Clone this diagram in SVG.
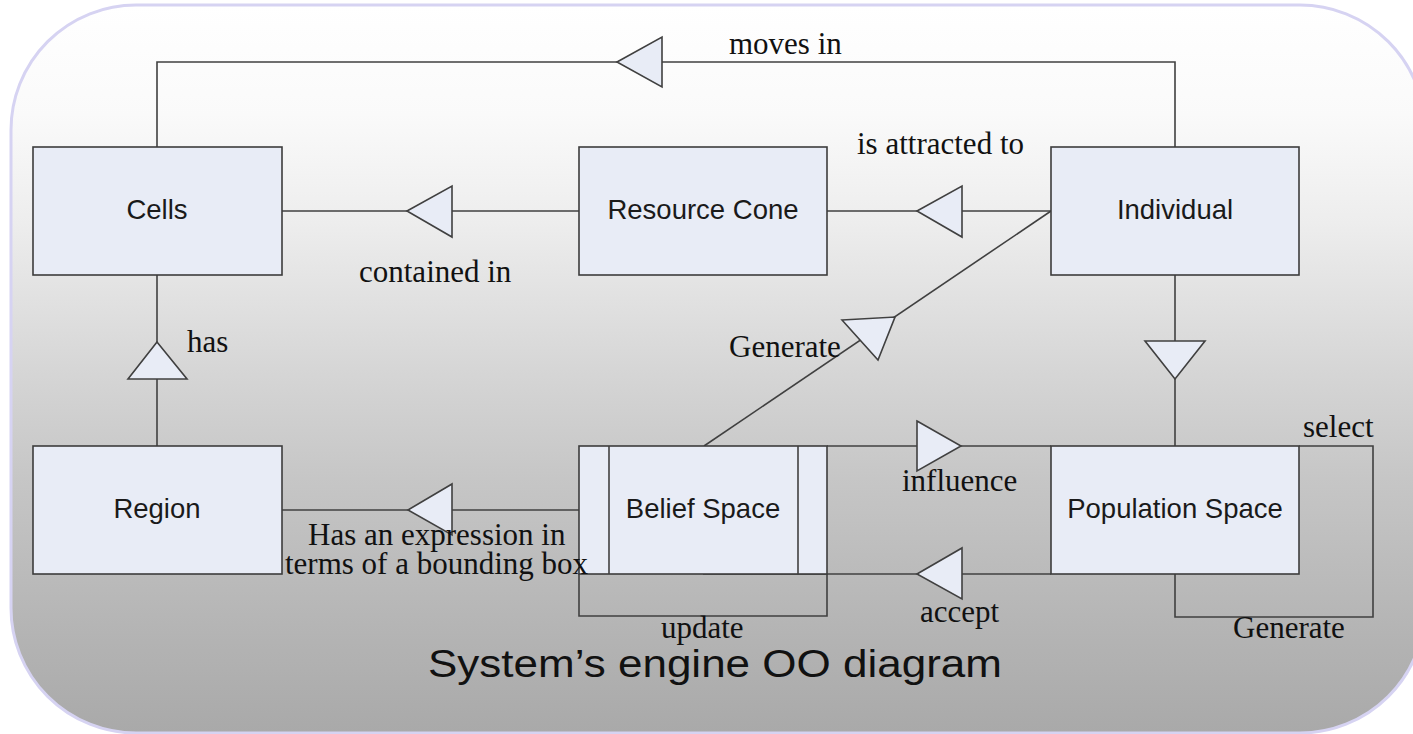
<svg xmlns="http://www.w3.org/2000/svg" width="1413" height="734" viewBox="0 0 1413 734">
  <defs>
    <linearGradient id="bg" x1="0" y1="0" x2="0" y2="1">
      <stop offset="0" stop-color="#ffffff"/>
      <stop offset="0.15" stop-color="#fafafa"/>
      <stop offset="0.3" stop-color="#ededed"/>
      <stop offset="0.5" stop-color="#d6d6d6"/>
      <stop offset="0.65" stop-color="#c6c6c6"/>
      <stop offset="0.85" stop-color="#b5b5b5"/>
      <stop offset="1" stop-color="#a9a9a9"/>
    </linearGradient>
    <style>
      .node { fill: #e8ecf6; stroke: #3c3c3c; stroke-width: 1.6; }
      .line { fill: none; stroke: #404040; stroke-width: 1.6; }
      .tri { fill: #e8ecf6; stroke: #404040; stroke-width: 1.6; stroke-linejoin: miter; }
      .nlabel { font-family: "Liberation Sans", Arial, sans-serif; font-size: 27.5px; fill: #1a1a1a; text-anchor: middle; }
      .elabel { font-family: "Liberation Serif", "Times New Roman", serif; font-size: 31px; fill: #111111; }
      .title { font-family: "Liberation Sans", Arial, sans-serif; font-size: 38px; fill: #111111; }
    </style>
  </defs>

  <rect x="0" y="0" width="1413" height="734" fill="#ffffff"/>
  <rect id="background" x="11" y="5" width="1414" height="728" rx="125" ry="125" fill="url(#bg)" stroke="#d6d3f2" stroke-width="3"/>

  <g id="connectors">
    <polyline class="line" points="1175,147 1175,62 157,62 157,147"/>
    <line class="line" x1="282" y1="211" x2="579" y2="211"/>
    <line class="line" x1="827" y1="211" x2="1051" y2="211"/>
    <line class="line" x1="1051" y1="211" x2="704" y2="446"/>
    <line class="line" x1="157" y1="275" x2="157" y2="446"/>
    <line class="line" x1="1175" y1="275" x2="1175" y2="446"/>
    <line class="line" x1="827" y1="446" x2="1051" y2="446"/>
    <line class="line" x1="282" y1="510" x2="579" y2="510"/>
    <line class="line" x1="703" y1="574" x2="1051" y2="574"/>
    <polyline class="line" points="579,574 579,616 827,616 827,574"/>
    <polyline class="line" points="1299,446 1373,446 1373,617 1175,617 1175,574"/>

    <polygon class="tri" points="617,62 662,37 662,87"/>
    <polygon class="tri" points="407,211 452,186 452,237"/>
    <polygon class="tri" points="917,211 962,186 962,237"/>
    <polygon class="tri" points="157,342 128,379 187,379"/>
    <polygon class="tri" points="1145,341 1205,341 1175,379"/>
    <polygon class="tri" points="842,320 895,317 878,360"/>
    <polygon class="tri" points="917,421 961,446 917,471"/>
    <polygon class="tri" points="408,510 452,484 452,535"/>
    <polygon class="tri" points="917,574 962,548 962,599"/>
  </g>

  <g id="cells">
    <rect class="node" x="33" y="147" width="249" height="128"/>
    <text class="nlabel" x="157" y="219">Cells</text>
  </g>
  <g id="resource-cone">
    <rect class="node" x="579" y="147" width="248" height="128"/>
    <text class="nlabel" x="703" y="219">Resource Cone</text>
  </g>
  <g id="individual">
    <rect class="node" x="1051" y="147" width="248" height="128"/>
    <text class="nlabel" x="1175" y="219">Individual</text>
  </g>
  <g id="region">
    <rect class="node" x="33" y="446" width="249" height="128"/>
    <text class="nlabel" x="157" y="518">Region</text>
  </g>
  <g id="belief-space">
    <rect class="node" x="579" y="446" width="248" height="128"/>
    <line class="line" x1="609" y1="446" x2="609" y2="574"/>
    <line class="line" x1="798" y1="446" x2="798" y2="574"/>
    <text class="nlabel" x="703" y="518">Belief Space</text>
  </g>
  <g id="population-space">
    <rect class="node" x="1051" y="446" width="248" height="128"/>
    <text class="nlabel" x="1175" y="518">Population Space</text>
  </g>

  <g id="labels">
    <text class="elabel" x="729" y="54">moves in</text>
    <text class="elabel" x="857" y="154">is attracted to</text>
    <text class="elabel" x="359" y="282">contained in</text>
    <text class="elabel" x="187" y="352">has</text>
    <text class="elabel" x="729" y="357">Generate</text>
    <text class="elabel" x="1303" y="437">select</text>
    <text class="elabel" x="902" y="491">influence</text>
    <text class="elabel" x="308" y="545">Has an expression in</text>
    <text class="elabel" x="285" y="574">terms of a bounding box</text>
    <text class="elabel" x="920" y="622">accept</text>
    <text class="elabel" x="661" y="638">update</text>
    <text class="elabel" x="1233" y="638">Generate</text>
    <text class="title" x="428" y="677" textLength="574" lengthAdjust="spacingAndGlyphs">System’s engine OO diagram</text>
  </g>
</svg>
